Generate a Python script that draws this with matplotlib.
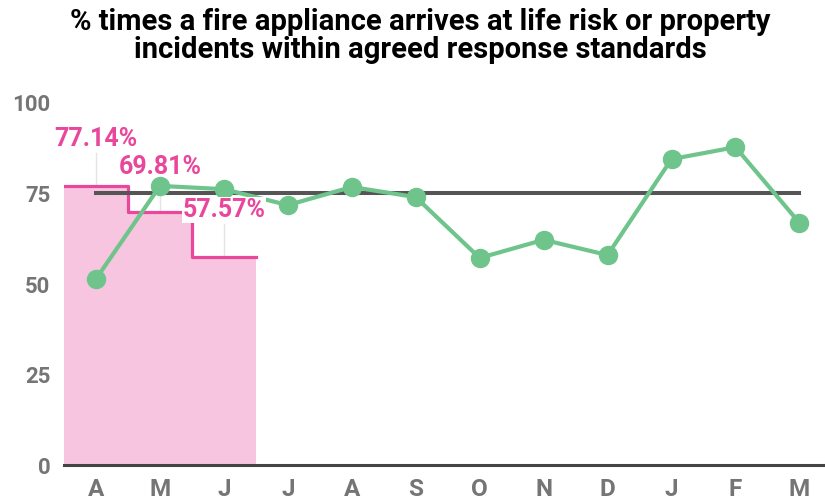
import matplotlib.pyplot as plt
import numpy as np

plt.rcParams['font.family'] = ['Roboto', 'DejaVu Sans']

# Monthly data
months = ['A', 'M', 'J', 'J', 'A', 'S', 'O', 'N', 'D', 'J', 'F', 'M']
pct_in_standard = [51.4, 77.1, 76.2, 71.8, 76.8, 74.0, 57.2, 62.2, 58.0, 84.5, 87.8, 66.9]
quarter_values = [77.14, 69.81, 57.57]
quarter_labels = ['77.14%', '69.81%', '57.57%']
target = 75

green = '#6fc48c'
pink = '#e8479b'
pink_fill = '#f8c5e0'
grey = '#757575'

fig = plt.figure(figsize=(8.25, 4.99), dpi=100)
ax = fig.add_axes([0.0776, 0.0681, 0.9224, 0.7255])

x = np.arange(len(months))
qx = np.arange(len(quarter_values))

# pink step area for the quarter figures
edges = np.append(qx - 0.5, qx[-1] + 0.5)
step_y = np.append(quarter_values, quarter_values[-1])
ax.fill_between(edges, step_y, step='post', color=pink_fill, lw=0, zorder=1)
ax.step(edges, step_y, where='post', color=pink, lw=2.3, zorder=2)

# leader lines from labels down to the step
for i, v in enumerate(quarter_values):
    ax.plot([i, i], [v, v + 9], color='#e4e4e4', lw=1, zorder=1.5)

# target line
ax.plot([x[0], x[-1]], [target, target], color='#555555', lw=2.9, zorder=3)

# monthly line
ax.plot(x, pct_in_standard, color=green, lw=3, marker='o', markersize=13,
        zorder=4)

# quarter labels
label_y = [90, 82.3, 70.4]
for i, (v, t) in enumerate(zip(quarter_values, quarter_labels)):
    bbox = dict(facecolor='white', edgecolor='none', pad=0.5) if i == 2 else None
    ax.text(i, label_y[i], t, color=pink, fontsize=18, fontweight='bold',
            ha='center', va='center', bbox=bbox, zorder=5)

ax.set_xlim(-0.5, 11.4)
ax.set_ylim(0, 100)
ax.set_yticks([0, 25, 50, 75, 100])
ax.set_xticks(x)
ax.set_xticklabels(months)
for s in ['left', 'right', 'top']:
    ax.spines[s].set_visible(False)
ax.spines['bottom'].set_color('#444444')
ax.spines['bottom'].set_linewidth(2.2)
ax.tick_params(axis='both', length=0, colors=grey)
ax.tick_params(axis='y', pad=10, labelsize=16)
ax.tick_params(axis='x', pad=9, labelsize=17.5)
for lbl in ax.get_xticklabels() + ax.get_yticklabels():
    lbl.set_fontweight('bold')

fig.suptitle('% times a fire appliance arrives at life risk or property\n'
             'incidents within agreed response standards',
             x=0.51, y=0.984, fontsize=21, fontweight='bold', linespacing=1.0)

fig.savefig('out.png', dpi=100)
